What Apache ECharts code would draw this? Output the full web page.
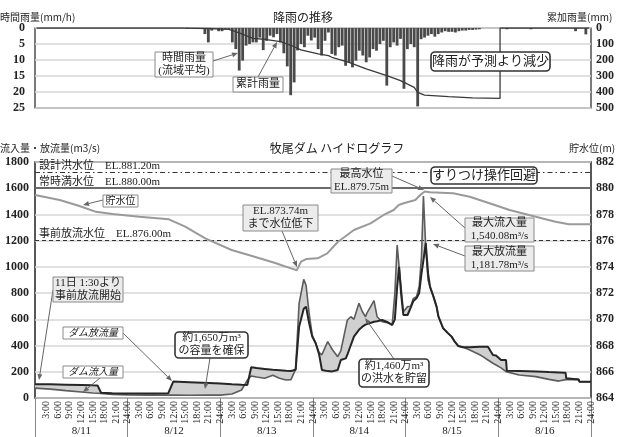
<!DOCTYPE html>
<html><head><meta charset="utf-8">
<script src="https://cdn.jsdelivr.net/npm/echarts/dist/echarts.min.js"></script>
<style>html,body{margin:0;padding:0;background:#fff}#c{width:617px;height:437px}</style>
</head><body><div id="c"></div>
<script>
// ---------- DATA ----------
// hourly basin-average rainfall (mm/h), one slot per bar of the upper chart
const hourlyRain = [
 0,0,0,0,0,0,0,0,0,0,
 0,0,0,0,0,0,0,0,0,0,
 0,0,0,0,0,0,0,0,0,0,
 0,0,0,0,0,0,0,0,0,0,
 0,0,0,0,0.3,0,0.3,0,0.3,1.9,
 4.5,0.8,0,1.0,1.0,0.3,0.3,4.5,6.6,13.3,
 10.2,5.5,5.0,4.5,4.5,3.0,6.9,4.0,2.4,2.9,
 1.9,4.5,7.9,12.0,21.0,17.0,7.0,5.0,6.0,2.4,
 3.9,3.0,6.6,8.6,4.0,1.4,8.1,8.6,6.0,5.5,
 11.8,10.7,12.3,10.2,7.1,8.6,10.7,9.2,6.6,7.1,
 5.0,4.0,18.0,6.0,4.5,5.5,3.4,19.0,6.6,5.0,
 6.0,24.5,3.5,3.0,2.4,1.9,2.7,1.9,1.4,1.0,
 1.2,1.2,1.4,1.0,0.8,0.8,0.6,0.6,0.5,0.4,
 0,0,0,0,0,0,0,0.4,0,0,
 0,0,0,0,0.4,0,0,0,0,0,
 0,0,0,0,0,0,0,1.0,0,0,
 2.0,0
];
const rainSlots = hourlyRain.map((_, i) => String(i));
// cumulative rainfall (mm) read at bar slots
const cumSlot  = [0,43,50,56,59,61,63,67,71,73,75,77,82,85,86,91,96,102,106,110,111,113,120,127,135,135,161];
const cumRain  = [0,0,3,8,30,48,65,72,85,100,117,137,162,173,183,215,255,298,329,371,402,419,429,437,440,0,0];

// hydrograph: hours since 8/11 0:00
const hours = [0,4,8,12,15,16.2,17.1,20,24,30,34.5,35.8,40,45,48,51,53.5,55,56,57.4,59.5,61.6,63.3,65,66.3,67.5,68.4,69.6,70.2,71,71.8,72.7,73.6,74.3,75.8,77,78.4,79.2,80.5,80.9,81.8,82.6,83.9,84.8,85.6,86,87.8,88.6,89.9,91.2,92.5,93.2,93.8,94.3,94.8,95.4,96.5,97.3,98,98.8,99.5,100.1,100.6,101.2,101.8,102.3,103.2,104,104.5,105.7,107,107.9,108.7,109.6,110.9,112.6,115.2,116,117.3,117.7,118.6,119.4,120.7,122,122.2,125.4,129.7,133.1,135.7,137.4,137.6,140.8,141,144];
const inflow  = [75,68,56,46,38,36,34,28,24,22,22,22,21,22,22,30,61,137,168,160,150,173,150,137,140,220,722,905,860,646,480,417,345,330,430,370,315,360,540,595,620,600,722,658,620,650,742,620,582,575,557,800,1167,1000,850,658,697,700,760,773,849,1078,1540,1150,900,849,773,697,620,532,493,468,430,397,387,366,330,315,290,280,265,252,230,201,200,175,163,142,129,140,150,142,124,124];
const outflow = [105,104,102,100,97,96,40,36,35,35,36,125,120,114,110,105,101,100,234,228,222,216,212,208,206,215,544,680,697,570,468,417,330,214,205,203,214,290,302,330,404,468,520,544,560,570,582,585,595,580,557,600,850,1000,800,633,633,690,740,760,800,950,1050,1182,950,849,773,697,620,532,493,468,430,397,387,387,391,391,391,378,328,325,290,290,208,206,202,198,195,193,150,142,124,124];
// reservoir level (EL. m)
const levelHours  = [0,6.4,11.5,15.8,20.1,27,34.7,38.9,44.1,50.9,56,62,66.3,67.8,68.9,70.2,73.2,75.7,78.4,82.6,86.9,90.3,92.9,94.2,95.5,98.5,99.8,100.9,102.3,108.3,112.6,117.7,122.9,129.7,134.8,138.3,144];
const levelValues = [879.48,879.1,878.64,878.2,878.03,877.83,877.63,877.07,876.18,875.29,874.85,874.32,873.89,873.74,874.4,874.6,874.65,875.03,875.9,876.81,877.32,877.96,878.34,878.72,878.85,879.1,879.48,879.75,879.69,879.61,879.35,878.85,878.34,877.83,877.45,877.25,877.25];
const dayLabels = ['8/11','8/12','8/13','8/14','8/15','8/16'];
const refLevels = [881.2, 880.0, 876.0];
const refNames  = ['設計洪水位　EL.881.20m','常時満水位　EL.880.00m','事前放流水位　EL.876.00m'];

// ---------- CHART ----------
const SERIF = "'Liberation Serif','DejaVu Serif','Noto Sans CJK JP',serif";
const JP = "'Noto Sans CJK JP',sans-serif";
const chart = echarts.init(document.getElementById('c'), null, {renderer:'canvas'});

function txt(x, y, s, size, align, fam, weight) {
  return {type:'text', x:x, y:y, z:100, silent:true,
    style:{text:s, fontSize:size, fontFamily:fam||JP, fontWeight:weight||'normal', fill:'#222', align:align||'left', verticalAlign:'middle'}};
}
function note(x, y, w, h, s, kind, size, italic) {
  const rounded = kind === 'round';
  const gray = kind === 'gray';
  return [
    {type:'rect', z:100, silent:true, shape:{x:x, y:y, width:w, height:h, r: rounded ? 4 : 0},
     style:{fill: gray ? '#ececec' : '#ffffff', stroke: rounded ? '#333' : '#8a8a8a', lineWidth: rounded ? 1.6 : 1}},
    {type:'text', z:101, silent:true, x:x + w/2, y:y + h/2,
     style:{text:s, fontSize:size||11, lineHeight:(size||11)+2, fontFamily:SERIF, fontStyle: italic ? 'italic' : 'normal',
       fill:'#222', align:'center', verticalAlign:'middle'}}
  ];
}
function arrow(x1, y1, x2, y2) {
  const dx = x2 - x1, dy = y2 - y1, L = Math.sqrt(dx*dx + dy*dy);
  const ux = dx / L, uy = dy / L, hl = 6, hw = 2.5;
  const bx = x2 - ux*hl, by = y2 - uy*hl;
  return [
    {type:'line', z:99, silent:true, shape:{x1:x1, y1:y1, x2:bx, y2:by}, style:{stroke:'#666', lineWidth:1}},
    {type:'polygon', z:99, silent:true, shape:{points:[[x2,y2],[bx - uy*hw, by + ux*hw],[bx + uy*hw, by - ux*hw]]}, style:{fill:'#666'}}
  ];
}

const graphics = [].concat(
  [txt(0,17,'時間雨量(mm/h)',10), txt(303,17,'降雨の推移',12,'center'), txt(547,17,'累加雨量(mm)',10),
   txt(0,148,'流入量・放流量(m3/s)',10), txt(337,148,'牧尾ダム ハイドログラフ',12,'center'), txt(569,148,'貯水位(m)',10)],
  note(155,52,58,25,'時間雨量\n(流域平均)','plain',11), arrow(213,61,238,53),
  note(233,77,50,15,'累計雨量','plain',11), arrow(258,77,277,42),
  note(431,52,119,19,'降雨が予測より減少','round',13),
  note(103,195,35,12,'貯水位','plain',10), arrow(103,200,83,205),
  note(243,205,75,26,'EL.873.74m\nまで水位低下','gray',11), arrow(282,231,297,267),
  note(331,169,61,24,'最高水位\nEL.879.75m','gray',11), arrow(392,176,424,190),
  note(431,167,106,17,'すりつけ操作回避','round',13),
  note(465,218,69,24,'最大流入量\n1,540.08m³/s','gray',11), arrow(465,228,430,197),
  note(465,246,69,25,'最大放流量\n1,181.78m³/s','gray',11), arrow(465,256,433,244),
  note(53,277,70,25,'11日 1:30より\n事前放流開始','gray',11), arrow(53,290,39,380),
  note(63,327,60,12,'ダム放流量','plain',10,true), arrow(123,333,172,381),
  note(63,366,60,12,'ダム流入量','plain',10,true), arrow(100,378,83,392),
  note(175,332,73,26,'約1,650万m³\nの容量を確保','round',11), arrow(210,358,205,389),
  note(359,359,70,28,'約1,460万m³\nの洪水を貯留','round',11), arrow(394,359,365,318)
);

const axisLbl = {fontFamily:SERIF, fontSize:12, fontWeight:'bold', color:'#222', formatter: v => String(v)};
const option = {
  animation:false,
  backgroundColor:'#fff',
  grid:[
    {left:35, right:22, top:28, height:80, show:true, borderColor:'#222', borderWidth:1.2},
    {left:35, right:22, top:162, height:236, show:true, borderColor:'#222', borderWidth:1.5}
  ],
  xAxis:[
    {type:'category', gridIndex:0, data:rainSlots, show:false, boundaryGap:true},
    {type:'value', gridIndex:1, min:0, max:144, interval:3,
     axisLine:{show:false}, axisTick:{show:false}, splitLine:{show:false},
     axisLabel:{rotate:90, margin:3, fontFamily:SERIF, fontSize:10, color:'#222', showMinLabel:true,
       formatter:v => v === 0 ? '' : ((v % 24 === 0 ? 24 : v % 24) + ':00')}},
    {type:'category', gridIndex:1, data:dayLabels, position:'bottom', offset:0, boundaryGap:true,
     axisLine:{show:false}, axisTick:{show:true, length:40, lineStyle:{color:'#888', width:1}},
     axisLabel:{margin:28, fontFamily:SERIF, fontSize:11, color:'#222'}}
  ],
  yAxis:[
    {type:'value', gridIndex:0, inverse:true, min:0, max:25, interval:5,
     axisLine:{show:false}, axisTick:{show:false},
     splitLine:{lineStyle:{color:'#d6d6d6', width:1.5}}, axisLabel:Object.assign({}, axisLbl, {margin:10})},
    {type:'value', gridIndex:0, inverse:true, min:0, max:500, interval:100, position:'right',
     axisLine:{show:false}, axisTick:{show:false}, splitLine:{show:false}, axisLabel:Object.assign({}, axisLbl, {margin:5})},
    {type:'value', gridIndex:1, min:0, max:1800, interval:200,
     axisLine:{show:false}, axisTick:{show:false},
     splitLine:{lineStyle:{color:'#d6d6d6', width:1.5}}, axisLabel:Object.assign({}, axisLbl, {margin:6})},
    {type:'value', gridIndex:1, min:864, max:882, interval:2, position:'right',
     axisLine:{show:false}, axisTick:{show:false}, splitLine:{show:false}, axisLabel:Object.assign({}, axisLbl, {margin:5})}
  ],
  series:[
    {type:'bar', xAxisIndex:0, yAxisIndex:0, data:hourlyRain, barCategoryGap:'18%', silent:true,
     itemStyle:{color:'#4a4a4a'}},
    {type:'line', xAxisIndex:0, yAxisIndex:1, data:cumSlot.map((s,i) => [s, cumRain[i]]),
     symbol:'none', silent:true, lineStyle:{color:'#3a3a3a', width:1.3}, z:3},
    // shaded band between inflow and outflow, projected through the axes
    {type:'custom', xAxisIndex:1, yAxisIndex:2, silent:true, z:2, data:[[hours[0], inflow[0]]],
     encode:{x:0, y:1},
     renderItem:(params, api) => {
       const pts = [];
       for (let i = 0; i < hours.length; i++) pts.push(api.coord([hours[i], inflow[i]]));
       for (let i = hours.length - 1; i >= 0; i--) pts.push(api.coord([hours[i], outflow[i]]));
       return {type:'polygon', shape:{points:pts}, style:{fill:'#d0d0d0', stroke:null}};
     }},
    {type:'line', name:'ダム流入量', xAxisIndex:1, yAxisIndex:2, silent:true, symbol:'none', z:4,
     data:hours.map((h,i) => [h, inflow[i]]), lineStyle:{color:'#5c5c5c', width:1.6}},
    {type:'line', name:'ダム放流量', xAxisIndex:1, yAxisIndex:2, silent:true, symbol:'none', z:5,
     data:hours.map((h,i) => [h, outflow[i]]), lineStyle:{color:'#262626', width:2}},
    {type:'line', name:'貯水位', xAxisIndex:1, yAxisIndex:3, silent:true, symbol:'none', z:6,
     data:levelHours.map((h,i) => [h, levelValues[i]]), lineStyle:{color:'#9a9a9a', width:2},
     markLine:{silent:true, symbol:'none', z:3,
       data:refLevels.map((v,i) => ({yAxis:v,
         lineStyle:{color: i === 1 ? '#6a6a6a' : '#333', width: i === 1 ? 2 : 1.2, type: i === 0 ? [5,3,1.5,3] : (i === 1 ? 'solid' : [4,3])},
         label:{show:true, formatter:refNames[i], position:'insideStartTop', distance:[4,1],
           fontFamily:SERIF, fontSize:11, color:'#222'}}))}}
  ],
  graphic: graphics
};
chart.setOption(option);
</script></body></html>
